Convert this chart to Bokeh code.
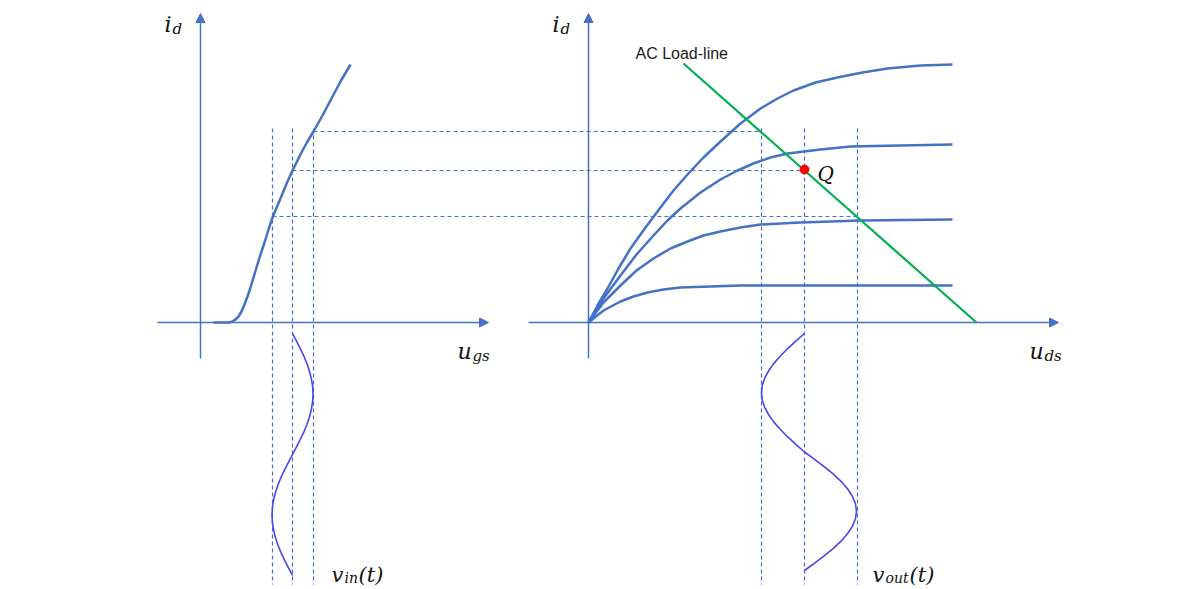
from bokeh.plotting import figure
from bokeh.models import Range1d, Arrow, NormalHead
from bokeh.core.properties import value
from bokeh.embed import file_html
from bokeh.resources import INLINE

# ---- data (page pixel coordinates) ----
# transfer characteristic i_d(u_gs)
transfer_x = [213, 228, 232, 235, 238, 241, 244, 247, 250, 253, 256, 260, 264, 268, 272,
              277, 282, 287, 292, 297, 302, 307, 313, 322, 331, 340, 350]
transfer_y = [322, 322, 321, 319, 316, 311, 304, 296, 287, 277, 267, 254, 242, 229, 217,
              205, 193, 181, 170, 160, 150, 141, 131, 115, 98, 81, 64]

# output characteristics i_d(u_ds)
curve1_x = [588, 597, 607, 618, 630, 645, 660, 673, 687, 703, 720, 740, 760, 777, 793, 815, 837, 862, 887, 920, 952]
curve1_y = [322, 305, 288, 268, 248, 227, 207, 190, 174, 157, 141, 123, 108, 98, 90, 82, 77, 72, 68, 65, 64]
curve2_x = [588, 603, 620, 636, 653, 667, 680, 700, 720, 737, 753, 770, 787, 820, 850, 900, 952]
curve2_y = [322, 298, 275, 254, 235, 220, 208, 192, 179, 170, 163, 157, 153, 149, 146, 145, 144]
curve3_x = [588, 603, 620, 636, 653, 670, 687, 703, 720, 740, 760, 800, 860, 952]
curve3_y = [322, 302, 285, 270, 258, 248, 241, 235, 231, 227, 224, 222, 220, 219]
curve4_x = [588, 603, 620, 633, 647, 663, 680, 710, 740, 952]
curve4_y = [322, 310, 301, 296, 292, 289, 287, 286, 285, 285]

# AC load line and Q point
load_x = [683, 976]
load_y = [63, 322]
q_x = [804]
q_y = [169]

# input signal v_in(t)
vin_x = [292, 296, 299.8, 303.4, 306.5, 309, 310.9, 312.1, 312.5, 312.1, 310.9, 309, 306.5, 303.4,
         299.8, 296, 292, 288, 284.2, 280.6, 277.5, 275, 273.1, 271.9, 271.5, 271.9, 273.1, 275,
         277.5, 280.6, 284.2, 288, 292]
vin_y = [333, 340.6, 348.1, 355.7, 363.3, 370.8, 378.4, 385.9, 393.5, 401.1, 408.6, 416.2, 423.8,
         431.3, 438.9, 446.4, 454, 461.6, 469.1, 476.7, 484.3, 491.8, 499.4, 506.9, 514.5, 522.1,
         529.6, 537.2, 544.8, 552.3, 559.9, 567.4, 575]

# output signal v_out(t)
vout_x = [804, 795.6, 787.5, 780.1, 773.6, 768.3, 764.3, 761.8, 761, 761.8, 764.3, 768.3, 773.6,
          780.1, 787.5, 795.6, 804, 814.1, 823.9, 832.9, 840.8, 847.2, 852, 855, 856, 855, 852,
          847.2, 840.8, 832.9, 823.9, 814.1, 804]
vout_y = [333, 340.4, 347.8, 355.2, 362.6, 370, 377.4, 384.8, 392.3, 399.7, 407.1, 414.5, 421.9,
          429.3, 436.7, 444.1, 451.5, 458.9, 466.3, 473.7, 481.1, 488.5, 496, 503.4, 510.8, 518.2,
          525.6, 533, 540.4, 547.8, 555.2, 562.6, 570]

# projection (dashed) lines
vdash_x = [272, 292, 313, 761, 804, 857]
vdash_top = 128
vdash_bottom = 584
hdash_y = [131, 170, 216]
hdash_x0 = [313, 292, 272]
hdash_x1 = [761, 804, 857]

AXIS = "#4472c4"
CURVE = "#4472c4"
SINE = "#4646f0"
GREEN = "#00b050"

p = figure(width=1200, height=589, output_backend="svg", toolbar_location=None,
           x_range=Range1d(0, 1200), y_range=Range1d(589, 0),
           x_axis_location=None, y_axis_location=None, min_border=0)
p.grid.visible = False
p.outline_line_color = None
p.background_fill_color = "white"
p.border_fill_color = "white"

# dashed projection lines
for x in vdash_x:
    p.line([x, x], [vdash_top, vdash_bottom], line_color=AXIS, line_width=1.2, line_dash="4 3")
for y, x0, x1 in zip(hdash_y, hdash_x0, hdash_x1):
    p.line([x0, x1], [y, y], line_color=AXIS, line_width=1.2, line_dash="4 3")

# axes with arrows
def axis_arrow(xs, ys, xe, ye):
    p.add_layout(Arrow(x_start=xs, y_start=ys, x_end=xe, y_end=ye,
                       line_color=AXIS, line_width=1.5,
                       end=NormalHead(size=9, fill_color=AXIS, line_color=AXIS)))

axis_arrow(200, 358, 200, 13)
axis_arrow(157, 322, 488, 322)
axis_arrow(588, 358, 588, 13)
axis_arrow(528, 322, 1058, 322)

# curves
p.line(transfer_x, transfer_y, line_color=CURVE, line_width=2.5)
for cx, cy in [(curve1_x, curve1_y), (curve2_x, curve2_y), (curve3_x, curve3_y), (curve4_x, curve4_y)]:
    p.line(cx, cy, line_color=CURVE, line_width=2.5)

p.line(load_x, load_y, line_color=GREEN, line_width=2.2)
p.scatter(q_x, q_y, size=9, fill_color="#ff0000", line_color="#ff0000")

p.line(vin_x, vin_y, line_color=SINE, line_width=1.6)
p.line(vout_x, vout_y, line_color=SINE, line_width=1.6)

# labels
MATH = value("DejaVu Serif")

def mtext(x, y, t, size):
    p.text([x], [y], text=[t], text_font=MATH, text_font_style="italic",
           text_font_size=f"{size}px", text_color="#111111",
           text_align="left", text_baseline="alphabetic")

mtext(164, 24, "i", 22); mtext(172, 28, "d", 15)
mtext(552, 24, "i", 22); mtext(560, 28, "d", 15)
mtext(457, 351, "u", 22); mtext(472, 355, "gs", 15)
mtext(1029, 351, "u", 22); mtext(1044, 355, "ds", 15)
mtext(331, 574, "v", 21); mtext(344, 577, "in", 14); mtext(358, 574, "(t)", 21)
mtext(872, 574, "v", 21); mtext(885, 577, "out", 14); mtext(909, 574, "(t)", 21)
mtext(817, 173, "Q", 20)

p.text([635], [53], text=["AC Load-line"], text_font=value("Liberation Sans"),
       text_font_size="16px", text_color="#1a1a1a",
       text_align="left", text_baseline="alphabetic")

open("out.html", "w").write(file_html(p, INLINE))
